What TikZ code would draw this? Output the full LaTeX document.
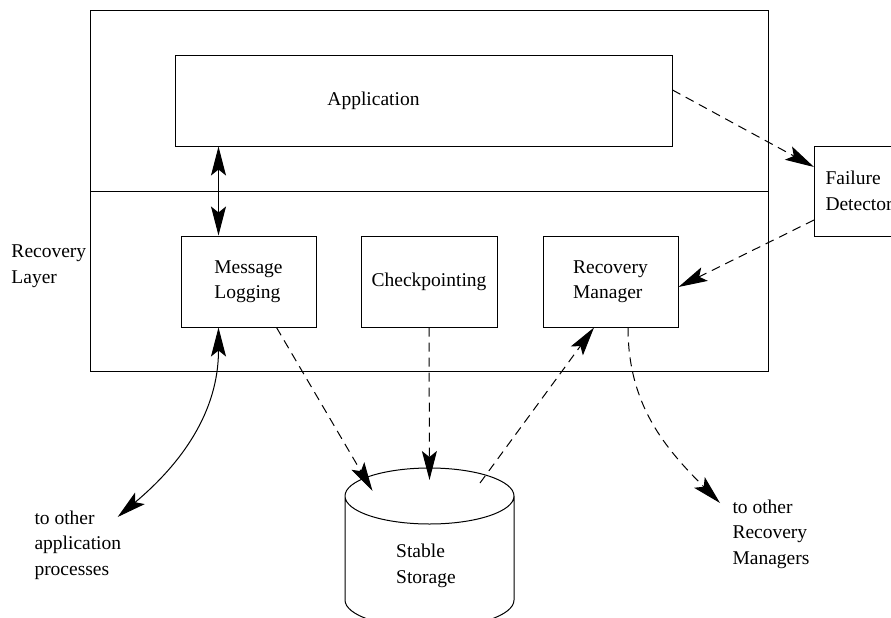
\documentclass[tikz,border=0pt]{standalone}
\usepackage{fontspec}
\setmainfont{Liberation Serif}
\usetikzlibrary{arrows.meta,calc}

\begin{document}
\begin{tikzpicture}[x=1pt, y=1pt, line width=1pt,
    font=\fontsize{19.5}{25.5}\selectfont,
    box/.style={draw, rectangle, align=left, minimum height=91pt},
    tip/.style={-{Stealth[length=29pt, width=15pt, inset=6pt]}},
    dbl/.style={{Stealth[length=29pt, width=15pt, inset=6pt]}-{Stealth[length=29pt, width=15pt, inset=6pt]}},
    dsh/.style={tip, dash pattern=on 9pt off 6pt}]
        \useasboundingbox (0,0) rectangle (891,-618);
        \clip (0,0) rectangle (891,-618);
        % recovery layer frame
        \draw (90,-11) rectangle (768,-371);
        \draw (90,-191) -- (768,-191);
        \node[anchor=west, align=left, inner sep=0pt] (rlayer) at (11,-266) {Recovery\\Layer};
        \node[box, minimum width=497pt, minimum height=90pt,
              label={[xshift=-50pt]center:Application}] (app) at (423.5,-101) {};
        \node[box, minimum width=135pt] (ml) at (248.5,-281.5) {Message\\Logging};
        \node[box, minimum width=136pt] (ck) at (429,-281.5) {Checkpointing};
        \node[box, minimum width=135pt] (rm) at (610.5,-281.5) {Recovery\\Manager};
        \node[box, anchor=west, minimum height=90pt, text width=80pt, inner xsep=11pt] (fd) at (814,-191) {Failure\\Detector};
        % stable storage
        \coordinate (ss) at (429.5,-496);
        \draw (ss) ++(-84.5,0) arc[start angle=180, end angle=-180, x radius=84.5, y radius=28]
              -- ++(0,-104) arc[start angle=180, end angle=360, x radius=84.5, y radius=28] -- ++(0,104);
        \node[align=left, inner sep=0pt] (sslabel) at (426,-566) {Stable\\Storage};
        \node[anchor=north west, align=left, inner sep=0pt] (toapp) at (34,-510) {to other\\application\\processes};
        \node[anchor=north west, align=left, inner sep=0pt] (torm) at (732,-499) {to other\\Recovery\\Managers};
        % connectors
        \draw[dbl] ([xshift=-30pt]ml.north) -- ([xshift=-30pt]ml.north |- app.south);
        \draw[dbl] ([xshift=-30pt]ml.south) to[out=-90, in=40] ([xshift=-4pt, yshift=-7pt]toapp.north east);
        \draw[dsh] ([xshift=28pt]ml.south) -- ($(ss)+(-57,5)$);
        \draw[dsh] (ck.south) -- ($(ss)+(0,16)$);
        \draw[dsh] ($(ss)+(50.5,13)$) -- ([xshift=-16.5pt]rm.south);
        \draw[dsh] ([xshift=17.5pt]rm.south) to[out=-90, in=135] ([xshift=-12pt, yshift=-4pt]torm.north west);
        \draw[dsh] ([yshift=11pt]app.east) -- ([yshift=24pt]fd.west);
        \draw[dsh] ([yshift=-29pt]fd.west) -- ([yshift=-5.5pt]rm.east);
\end{tikzpicture}
\end{document}
